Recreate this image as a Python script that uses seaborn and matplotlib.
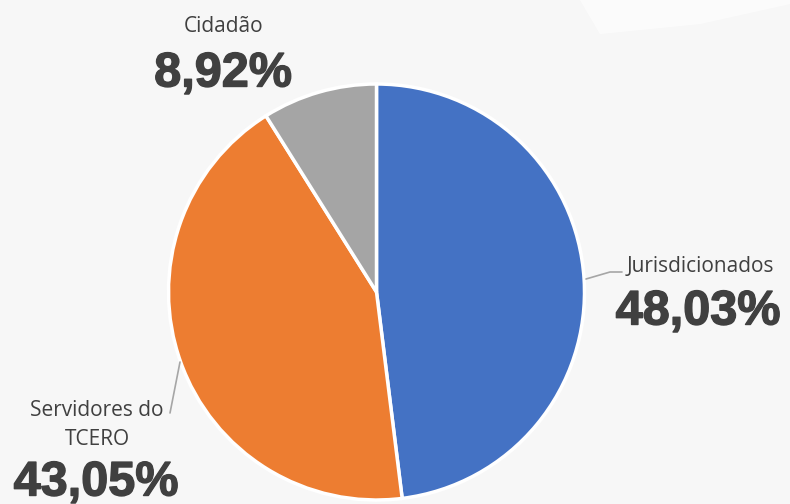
import matplotlib
matplotlib.use("Agg")
import matplotlib.pyplot as plt
import matplotlib.patheffects as pe
import seaborn as sns

categories = ["Jurisdicionados", "Servidores do\nTCERO", "Cidadão"]
values = [48.03, 43.05, 8.92]
pct_labels = ["48,03%", "43,05%", "8,92%"]
colors = ["#4472C4", "#ED7D31", "#A5A5A5"]

sns.set_theme(style="white")
plt.rcParams["font.family"] = ["Open Sans", "DejaVu Sans"]

W, H = 790, 504
fig = plt.figure(figsize=(W / 100, H / 100), dpi=100)
bg = "#f7f7f7"
fig.patch.set_facecolor(bg)
ax = fig.add_axes([0, 0, 1, 1])
ax.set_facecolor(bg)

# faint decorative background shape
ax.fill([580, 600, 700, 790, 790], [504, 470, 480, 500, 504], color="white", alpha=0.6, lw=0, zorder=0)

cx, cy, r = 376.5, H - 292, 208
ax.pie(values, colors=colors, startangle=90, counterclock=False,
       center=(cx, cy), radius=r, frame=True,
       wedgeprops=dict(edgecolor="white", linewidth=2.5))
ax.set_xlim(0, W)
ax.set_ylim(0, H)
ax.set_aspect("equal")
ax.axis("off")

def Y(py):
    return H - py

txt_color = "#404040"
name_kw = dict(fontsize=15, color=txt_color, ha="center", va="center", linespacing=1.45)
pct_kw = dict(fontsize=35, color=txt_color, ha="center", va="center",
              family=["Liberation Sans", "DejaVu Sans"], fontweight="bold",
              path_effects=[pe.withStroke(linewidth=1.0, foreground=txt_color)])

# label positions (pixel coords)
name_pos = [(700, 266), (97, 425), (224, 26)]
pct_pos = [(698, 312), (96, 483), (223, 74)]
for cat, p, (nx, ny), (px, py) in zip(categories, pct_labels, name_pos, pct_pos):
    ax.text(nx, Y(ny), cat, **name_kw)
    ax.text(px, Y(py), p, **pct_kw)

# leader lines
ax.plot([586, 610, 622], [Y(279), Y(272), Y(272)], color="#a6a6a6", lw=1.2)
ax.plot([180, 170], [Y(362), Y(413)], color="#a6a6a6", lw=1.2)

fig.savefig("out.png", dpi=100, facecolor=bg)
